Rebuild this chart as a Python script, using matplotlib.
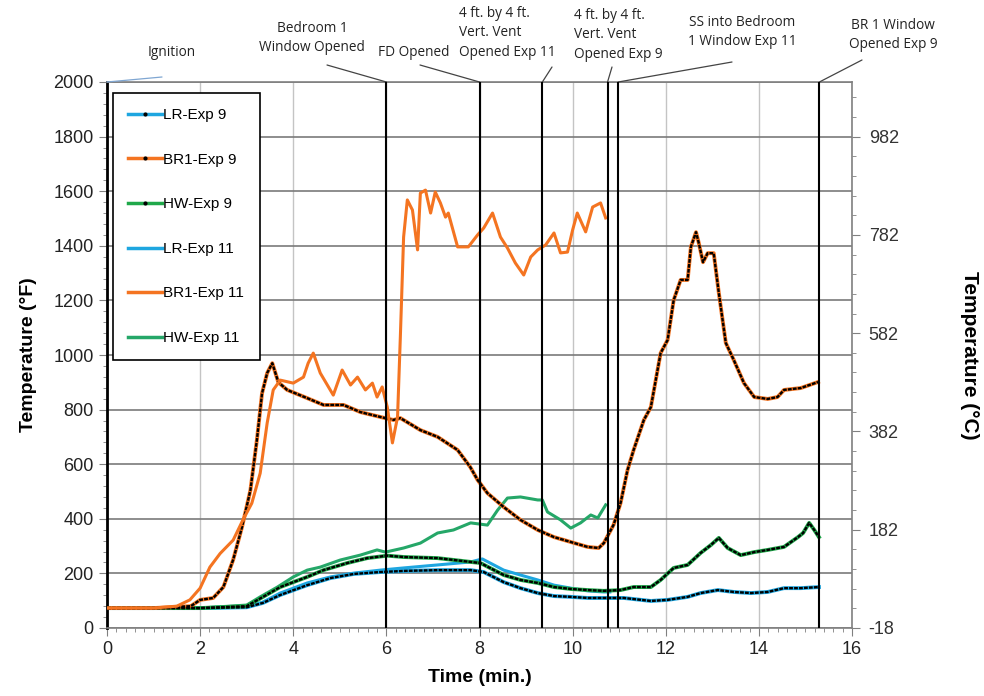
import numpy as np
import matplotlib.pyplot as plt
from matplotlib.lines import Line2D
from matplotlib.ticker import MultipleLocator, FixedLocator, FormatStrFormatter

# Données (temps en min, température en °F)

t_lr9 = [0, 1, 2, 3, 3.35, 3.72, 4.3, 4.8, 5.3, 5.87, 6.37, 7.1, 7.81, 8.09, 8.52, 8.88, 9.25,
         9.6, 9.96, 10.32, 10.67, 11.1, 11.68, 12.04, 12.47, 12.75, 13.12, 13.46, 13.83, 14.19,
         14.54, 14.9, 15.29]
T_lr9 = [73, 73, 73, 76, 92, 121, 157, 183, 198, 205, 209, 212, 212, 205, 168, 146, 128,
         117, 114, 110, 110, 110, 99, 103, 114, 128, 139, 132, 128, 132,
         146, 146, 150]

t_br9 = [0, 1, 1.8, 2.0, 2.28, 2.5, 2.71, 2.9, 3.08, 3.22, 3.33, 3.44, 3.55, 3.68, 3.87, 4.3,
         4.65, 5.08, 5.44, 5.87, 6.15, 6.3, 6.73, 7.1, 7.53, 7.8, 7.96, 8.17, 8.52, 8.88, 9.25,
         9.6, 9.96, 10.32, 10.56, 10.67, 10.88, 11.03, 11.18, 11.31, 11.53, 11.68, 11.89, 12.04,
         12.17, 12.32, 12.47, 12.54, 12.65, 12.71, 12.8, 12.9, 13.03, 13.14, 13.29, 13.46, 13.68,
         13.9, 14.19, 14.4, 14.54, 14.9, 15.27]
T_br9 = [73, 73, 80, 103, 110, 150, 250, 370, 505, 690, 860, 934, 970, 900, 872, 842,
         817, 817, 791, 773, 762, 769, 725, 700, 652, 590, 542, 494, 443, 396, 359,
         333, 315, 297, 293, 311, 378, 458, 579, 652, 762, 809, 1007, 1055,
         1201, 1275, 1275, 1396, 1450, 1410, 1340, 1373, 1373, 1227, 1044, 982, 897,
         846, 839, 846, 872, 879, 901]

t_hw9 = [0, 1, 2, 3.0, 3.35, 3.72, 4.3, 4.65, 5.16, 5.59, 6.02, 6.37, 7.1, 7.81, 8.02, 8.52,
         8.88, 9.25, 9.6, 9.96, 10.32, 10.67, 11.03, 11.31, 11.68, 11.89, 12.17, 12.47, 12.75,
         12.97, 13.14, 13.33, 13.61, 13.9, 14.19, 14.54, 14.84, 14.95, 15.08, 15.19, 15.29]
T_hw9 = [73, 73, 73, 80, 114, 150, 187, 212, 238, 256, 265, 260, 256, 242, 238, 194,
         176, 165, 150, 143, 139, 136, 139, 150, 150, 176, 220, 231, 275,
         304, 330, 293, 267, 278, 286, 297, 333, 348, 385, 359, 333]

t_lr11 = [0, 1, 2, 3.0, 3.35, 3.72, 4.3, 4.8, 5.3, 5.87, 6.37, 7.1, 7.81, 8.06, 8.52, 8.88,
          9.25, 9.6, 9.96, 10.32, 10.67, 10.8]
T_lr11 = [73, 73, 73, 76, 95, 128, 165, 187, 201, 212, 220, 231, 242, 253, 212, 194,
          176, 157, 146, 136, 132, 132]

t_br11 = [0, 1, 1.5, 1.78, 2.0, 2.21, 2.43, 2.71, 2.92, 3.11, 3.29, 3.44, 3.57, 3.72, 4.0,
          4.22, 4.32, 4.43, 4.58, 4.86, 5.05, 5.23, 5.38, 5.55, 5.7, 5.8, 5.91, 6.02, 6.13,
          6.24, 6.3, 6.37, 6.45, 6.56, 6.67, 6.73, 6.84, 6.95, 7.05, 7.16, 7.27, 7.33, 7.53,
          7.76, 7.96, 8.09, 8.28, 8.45, 8.6, 8.77, 8.95, 9.1, 9.25, 9.42, 9.6, 9.74, 9.89,
          10.0, 10.1, 10.28, 10.43, 10.6, 10.71]
T_br11 = [73, 73, 80, 103, 146, 223, 273, 322, 396, 457, 567, 751, 872, 908, 897,
          919, 970, 1007, 934, 853, 945, 890, 919, 872, 897, 846, 883, 809, 678,
          773, 1066, 1432, 1568, 1531, 1385, 1593, 1604, 1520, 1597, 1557, 1505, 1520, 1396,
          1396, 1440, 1465, 1520, 1432, 1392, 1337, 1293, 1359, 1385, 1403, 1447, 1374, 1377,
          1458, 1520, 1451, 1542, 1557, 1502]

t_hw11 = [0, 1, 2, 3.0, 3.29, 3.66, 4.0, 4.3, 4.58, 5.01, 5.44, 5.8, 5.98, 6.37, 6.73, 7.1,
          7.44, 7.81, 8.17, 8.39, 8.6, 8.88, 9.25, 9.35, 9.46, 9.74, 9.96, 10.17, 10.39, 10.54,
          10.71]
T_hw11 = [73, 73, 73, 84, 114, 150, 187, 212, 223, 249, 267, 286, 278, 293, 311, 348,
          359, 385, 377, 432, 476, 480, 469, 469, 425, 396, 366, 385, 414, 403,
          451]

# Evénements (temps en min) et leurs libellés
t_evt = [0, 6.0, 8.0, 9.35, 10.75, 10.98, 15.3]
lab_evt = ["Ignition", "Bedroom 1\nWindow Opened", "FD Opened",
           "4 ft. by 4 ft.\nVert. Vent\nOpened Exp 11", "4 ft. by 4 ft.\nVert. Vent\nOpened Exp 9",
           "SS into Bedroom\n1 Window Exp 11", "BR 1 Window\nOpened Exp 9"]

# Couleurs
c_lr = '#1ea6e0'
c_br = '#f47421'
c_hw9 = '#1fa84a'
c_hw11 = '#25a768'

W, H = 984, 696
fig = plt.figure(figsize=(W / 100, H / 100), dpi=100)
ax = fig.add_axes([107 / W, 1 - 628 / H, (852 - 107) / W, (628 - 82) / H])

police = 'Liberation Sans'

# Séries Exp 11 : ligne simple ; Exp 9 : ligne colorée + points noirs serrés
ax.plot(t_lr11, T_lr11, color=c_lr, lw=2.2, zorder=3)
ax.plot(t_hw11, T_hw11, color=c_hw11, lw=2.2, zorder=3)
for t, T, c in [(t_lr9, T_lr9, c_lr), (t_hw9, T_hw9, c_hw9), (t_br9, T_br9, c_br)]:
    ax.plot(t, T, color=c, lw=2.8, zorder=4)
    ax.plot(t, T, color='black', lw=1.7, dashes=(1.6, 0.5), zorder=5)
ax.plot(t_br11, T_br11, color=c_br, lw=2.2, zorder=6)

# Lignes verticales des événements
for x in t_evt[1:]:
    ax.axvline(x, color='black', lw=1.5, zorder=7)

ax.set_xlim(0, 16)
ax.set_ylim(0, 2000)
ax.xaxis.set_major_locator(MultipleLocator(2))
ax.xaxis.set_minor_locator(MultipleLocator(0.2))
ax.yaxis.set_major_locator(MultipleLocator(200))
ax.yaxis.set_minor_locator(MultipleLocator(40))
ax.grid(axis='x', which='major', color='#c4c4c4', lw=1.0)
ax.grid(axis='y', which='major', color='#7a7a7a', lw=1.2)
ax.set_axisbelow(True)

for s in ['top', 'right', 'bottom']:
    ax.spines[s].set_color('#808080')
    ax.spines[s].set_linewidth(1.2)
ax.spines['left'].set_color('black')
ax.spines['left'].set_linewidth(2)

ax.tick_params(axis='both', which='major', direction='out', length=6, color='#808080',
               labelsize=13, labelcolor='#222222')
ax.tick_params(axis='both', which='minor', direction='out', length=3, color='#808080')
for lab in ax.get_xticklabels() + ax.get_yticklabels():
    lab.set_family(police)

ax.set_xlabel("Time (min.)", fontsize=14, fontweight='bold', family=police, labelpad=8)
ax.set_ylabel("Temperature (°F)", fontsize=14, fontweight='bold', family=police, labelpad=12)

# Axe de droite en °C
ax2 = ax.twinx()
ax2.set_ylim((0 - 32) * 5 / 9, (2000 - 32) * 5 / 9)
ax2.yaxis.set_major_locator(FixedLocator(np.arange(-160 / 9, 1000, 200)))
ax2.yaxis.set_minor_locator(FixedLocator(np.arange(-160 / 9, 1090, 40)))
ax2.yaxis.set_major_formatter(FormatStrFormatter('%.0f'))
ax2.tick_params(axis='y', which='major', direction='out', length=6, color='#808080',
                labelsize=13, labelcolor='#333333', pad=6)
ax2.tick_params(axis='y', which='minor', direction='out', length=3, color='#808080')
for lab in ax2.get_yticklabels():
    lab.set_family(police)
for s in ax2.spines.values():
    s.set_visible(False)
ax2.set_ylabel("Temperature (°C)", fontsize=15, fontweight='bold', family=police,
               rotation=270, labelpad=58)

# Légende
handles = [
    Line2D([], [], color=c_lr, lw=2.5, marker='.', ms=4, mfc='black', mec='black'),
    Line2D([], [], color=c_br, lw=2.5, marker='.', ms=4, mfc='black', mec='black'),
    Line2D([], [], color=c_hw9, lw=2.5, marker='.', ms=4, mfc='black', mec='black'),
    Line2D([], [], color=c_lr, lw=2.5),
    Line2D([], [], color=c_br, lw=2.5),
    Line2D([], [], color=c_hw11, lw=2.5),
]
noms = ["LR-Exp 9", "BR1-Exp 9", "HW-Exp 9", "LR-Exp 11", "BR1-Exp 11", "HW-Exp 11"]
leg = ax.legend(handles, noms, loc='upper left', bbox_to_anchor=(0.008, 0.98),
                frameon=True, fancybox=False, framealpha=1, edgecolor='black',
                prop={'family': police, 'size': 11}, labelspacing=2.0,
                handlelength=2.2, handletextpad=0.1, borderpad=1.0, borderaxespad=0,
                numpoints=1)
leg.get_frame().set_linewidth(1.2)
leg.set_zorder(10)

# Annotations en haut (position du texte et départ du trait en pixels)
pos_txt = [(172, 52), (312, 38), (414, 53), (459, 33), (574, 35), (742, 32), (893, 35)]
pos_trait = [(162, 77), (327, 65), (420, 65), (552, 67), (612, 67), (732, 62), (862, 60)]
alig = ['center', 'center', 'center', 'left', 'left', 'center', 'center']
for i in range(len(t_evt)):
    fx, fy = pos_txt[i]
    fig.text(fx / W, 1 - fy / H, lab_evt[i], ha=alig[i], va='center', fontsize=9.8,
             family='Open Sans', color='#222222', linespacing=1.4)
    lx, ly = pos_trait[i]
    coul = '#7fa6d2' if i == 0 else '#444444'
    ax.annotate('', xy=(t_evt[i], 2000), xycoords='data',
                xytext=(lx / W, 1 - ly / H), textcoords='figure fraction',
                arrowprops=dict(arrowstyle='-', color=coul, lw=0.9, shrinkA=0, shrinkB=0),
                annotation_clip=False)

fig.savefig("out.png", dpi=100)
